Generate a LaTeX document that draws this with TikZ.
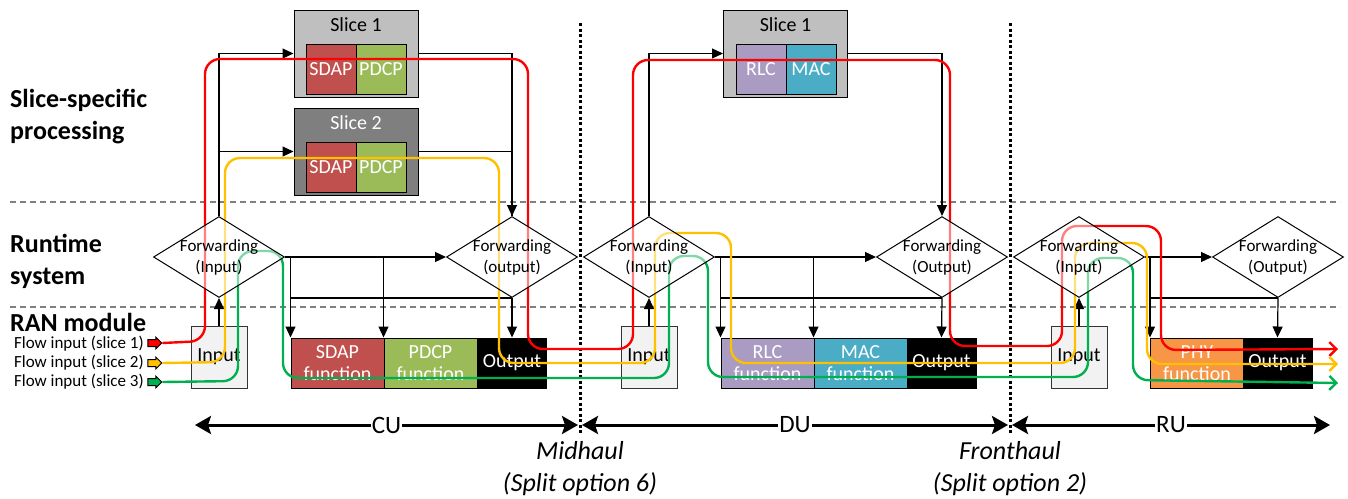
\documentclass[tikz,border=0pt]{standalone}
\usepackage{fontspec}
\setmainfont{Carlito}
\usetikzlibrary{shapes.geometric,shapes.arrows,arrows.meta}

\definecolor{sdapred}{HTML}{C0504D}
\definecolor{pdcpgreen}{HTML}{9BBB59}
\definecolor{rlcpurple}{HTML}{A99BC2}
\definecolor{macblue}{HTML}{4BACC6}
\definecolor{phyorange}{HTML}{F79646}
\definecolor{slicelight}{HTML}{BFBFBF}
\definecolor{slicedark}{HTML}{7F7F7F}
\definecolor{inputgray}{HTML}{F2F2F2}
\definecolor{flowred}{HTML}{FF0000}
\definecolor{flowyellow}{HTML}{FFC000}
\definecolor{flowgreen}{HTML}{00B050}
\definecolor{layergray}{HTML}{808080}

\tikzset{
  boxfont/.style={font=\fontsize{20}{22}\selectfont},
  smallfont/.style={font=\fontsize{17}{21}\selectfont},
  heading/.style={font=\fontsize{26}{32}\selectfont\bfseries, align=left, anchor=west, inner sep=0pt},
  slicebox/.style={draw, line width=1pt, minimum width=124pt, minimum height=87pt, inner sep=0pt},
  fnbox/.style={draw, line width=1pt, minimum width=50pt, minimum height=50pt, inner sep=0pt, text=white, boxfont},
  funcbox/.style={draw, line width=1pt, minimum width=93pt, minimum height=50pt, inner sep=0pt, text=white, boxfont, align=center},
  outbox/.style={funcbox, fill=black, minimum width=69pt},
  inbox/.style={draw=black!80, fill=inputgray, line width=1pt, minimum width=56pt, minimum height=62pt, inner sep=0pt, boxfont},
  fwd/.style={diamond, draw, line width=1pt, fill=white, fill opacity=0.5, minimum width=131pt, minimum height=81pt, inner sep=0pt},
  fwdtext/.style={smallfont, align=center, inner sep=0pt},
  conn/.style={line width=1.2pt},
  arr/.style={conn, -{Triangle[length=11pt,width=10pt]}},
  flow/.style={line width=2.4pt, rounded corners=15pt},
  flowend/.style={-{Straight Barb[length=7pt,width=14pt]}},
  flowin/.style={single arrow, draw, line width=1pt, minimum height=14pt, inner sep=3pt, single arrow head extend=2.5pt},
  layer/.style={draw=layergray, line width=2.5pt, dash pattern=on 6pt off 4pt},
  split/.style={line width=3pt, dash pattern=on 3pt off 2.5pt},
  span/.style={line width=3pt, {Stealth[length=16pt,width=18pt,inset=3pt]}-{Stealth[length=16pt,width=18pt,inset=3pt]}},
  spanlabel/.style={fill=white, inner sep=1pt, font=\fontsize{25}{28}\selectfont},
  splitlabel/.style={align=center, font=\fontsize{26}{32}\selectfont\itshape},
}

\begin{document}
\begin{tikzpicture}[x=1pt,y=-1pt]
  \useasboundingbox (0,0) rectangle (1348,498);
  % layer borders and split points
  \draw[layer] (10,202) -- (1340,202);
  \draw[layer] (10,307) -- (1340,307);
  \draw[split] (580,23) -- (580,433);
  \draw[split] (1010,23) -- (1010,433);
  % headings
  \node[heading] (hslice) at (10,117) {Slice-specific\\processing};
  \node[heading] (hrun) at (10,261) {Runtime\\system};
  \node[heading] (hran) at (10,322) {RAN module};
  % CU slices
  \node[slicebox, fill=slicelight] (cus1) at (356,53.5) {};
  \node[boxfont] (cus1t) at (356,25) {Slice 1};
  \node[fnbox, fill=sdapred] (cus1a) at (331,69) {SDAP};
  \node[fnbox, fill=pdcpgreen] (cus1b) at (381,69) {PDCP};
  \node[slicebox, fill=slicedark] (cus2) at (356,151.5) {};
  \node[boxfont, text=white] (cus2t) at (356,123) {Slice 2};
  \node[fnbox, fill=sdapred] (cus2a) at (331,167) {SDAP};
  \node[fnbox, fill=pdcpgreen] (cus2b) at (381,167) {PDCP};
  % DU slice
  \node[slicebox, fill=slicelight] (dus1) at (785.5,53.5) {};
  \node[boxfont] (dus1t) at (785.5,25) {Slice 1};
  \node[fnbox, fill=rlcpurple] (dus1a) at (761,69) {RLC};
  \node[fnbox, fill=macblue] (dus1b) at (811,69) {MAC};
  % RAN modules
  \node[inbox] (cuin) at (219,357) {Input};
  \node[funcbox, fill=sdapred] (cusdap) at (337.5,363) {SDAP\\function};
  \node[funcbox, fill=pdcpgreen] (cupdcp) at (430.5,363) {PDCP\\function};
  \node[outbox] (cuout) at (512,363) {Output};
  \node[inbox] (duin) at (649,357) {Input};
  \node[funcbox, fill=rlcpurple] (durlc) at (767.5,363) {RLC\\function};
  \node[funcbox, fill=macblue] (dumac) at (860.5,363) {MAC\\function};
  \node[outbox] (duout) at (941.5,363) {Output};
  \node[inbox] (ruin) at (1079,357) {Input};
  \node[funcbox, fill=phyorange] (ruphy) at (1197,363) {PHY\\function};
  \node[outbox] (ruout) at (1277.5,363) {Output};
  % runtime diamonds (drawn later), coordinates first
  \node[fwd, draw=none, fill=none] (cufi) at (219,257) {};
  \node[fwd, draw=none, fill=none] (cufo) at (512,257) {};
  \node[fwd, draw=none, fill=none] (dufi) at (649,257) {};
  \node[fwd, draw=none, fill=none] (dufo) at (942,257) {};
  \node[fwd, draw=none, fill=none] (rufi) at (1079,257) {};
  \node[fwd, draw=none, fill=none] (rufo) at (1278,257) {};
  % CU connectors
  \draw[arr] (cuin) -- (cufi.south);
  \draw[arr] (cufi.north) |- (cus1.west);
  \draw[arr] (cufi.north) |- (cus2.west);
  \draw[arr] (cus1.east) -| (cufo.north);
  \draw[conn] (cus2.east) -| (cufo.north);
  \draw[arr] (cufi.east) -- (cufo.west);
  \draw[arr] (cufi.east -| cusdap.north west) -- (cusdap.north west);
  \draw[arr] (cufi.east -| cupdcp.north west) -- (cupdcp.north west);
  \draw[conn] (cusdap.north west |- cufo.south) -- (cufo.south);
  \draw[arr] (cufo.south) -- (cuout.north);
  % DU connectors
  \draw[arr] (duin) -- (dufi.south);
  \draw[arr] (dufi.north) |- (dus1.west);
  \draw[arr] (dus1.east) -| (dufo.north);
  \draw[arr] (dufi.east) -- (dufo.west);
  \draw[arr] (dufi.east -| durlc.north west) -- (durlc.north west);
  \draw[arr] (dufi.east -| dumac.north west) -- (dumac.north west);
  \draw[conn] (durlc.north west |- dufo.south) -- (dufo.south);
  \draw[arr] (dufo.south) -- (duout.north);
  % RU connectors
  \draw[arr] (ruin) -- (rufi.south);
  \draw[arr] (rufi.east) -- (rufo.west);
  \draw[arr] (rufi.east -| ruphy.north west) -- (ruphy.north west);
  \draw[conn] (ruphy.north west |- rufo.south) -- (rufo.south);
  \draw[arr] (rufo.south) -- (ruout.north);
  % flow inputs
  \node[smallfont, anchor=east, inner sep=0pt] (fl1) at (144,344) {Flow input (slice 1)};
  \node[smallfont, anchor=east, inner sep=0pt] (fl2) at (144,363) {Flow input (slice 2)};
  \node[smallfont, anchor=east, inner sep=0pt] (fl3) at (144,382) {Flow input (slice 3)};
  \node[flowin, fill=flowred] (fin1) at (153,343) {};
  \node[flowin, fill=flowyellow] (fin2) at (153,363) {};
  \node[flowin, fill=flowgreen] (fin3) at (153,382) {};
  % flows
  \draw[flow, flowred, flowend] (fin1.east) -- (205,341) -- (205,59) -- (528,59) -- (528,349) -- (633,349)
    -- (633,60) -- (950,60) -- (950,346) -- (1062,346) -- (1062,226) -- (1161,226) -- (1161,350) -- (1338,349);
  \draw[flow, flowyellow, flowend] (fin2.east) -- (225,362) -- (225,158) -- (499,158) -- (499,363) -- (655,363)
    -- (655,233) -- (731,233) -- (731,363) -- (1075,363) -- (1075,243) -- (1147,243) -- (1147,364) -- (1338,364);
  \draw[flow, flowgreen, flowend] (fin3.east) -- (238,381) -- (238,251) -- (283,251) -- (283,378) -- (669,378)
    -- (669,256) -- (708,256) -- (708,377) -- (1088,377) -- (1088,258) -- (1133,258) -- (1133,380) -- (1338,383);
  % forwarding diamonds
  \node[fwd] (cufid) at (cufi) {};
  \node[fwdtext] (cufit) at (cufi) {Forwarding\\(Input)};
  \node[fwd] (cufod) at (cufo) {};
  \node[fwdtext] (cufot) at (cufo) {Forwarding\\(output)};
  \node[fwd] (dufid) at (dufi) {};
  \node[fwdtext] (dufit) at (dufi) {Forwarding\\(Input)};
  \node[fwd] (dufod) at (dufo) {};
  \node[fwdtext] (dufot) at (dufo) {Forwarding\\(Output)};
  \node[fwd] (rufid) at (rufi) {};
  \node[fwdtext] (rufit) at (rufi) {Forwarding\\(Input)};
  \node[fwd] (rufod) at (rufo) {};
  \node[fwdtext] (rufot) at (rufo) {Forwarding\\(Output)};
  % units
  \draw[span] (195,425) -- node[spanlabel] (culbl) {CU} (578,425);
  \draw[span] (582,425) -- node[spanlabel] (dulbl) {DU} (1008,425);
  \draw[span] (1012,425) -- node[spanlabel] (rulbl) {RU} (1330,425);
  \node[splitlabel] (midhaul) at (580,469) {Midhaul\\(Split option 6)};
  \node[splitlabel] (fronthaul) at (1010,469) {Fronthaul\\(Split option 2)};
\end{tikzpicture}
\end{document}
